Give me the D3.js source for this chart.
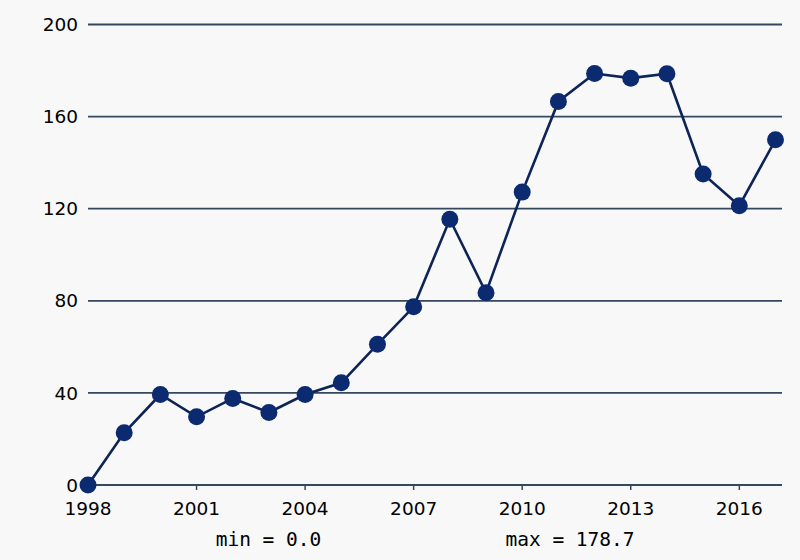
<!DOCTYPE html>
<html><head><meta charset="utf-8">
<script src="https://cdn.jsdelivr.net/npm/d3@7"></script>
<style>body{margin:0;background:#f8f8f8;}svg{display:block;}</style>
</head><body>
<svg id="c" width="800" height="560"></svg>
<script>
const years = [1998,1999,2000,2001,2002,2003,2004,2005,2006,2007,2008,2009,2010,2011,2012,2013,2014,2015,2016,2017];
const values = [0,22.7,39.3,29.6,37.6,31.5,39.3,44.4,61.1,77.4,115.4,83.5,127.2,166.6,178.7,176.7,178.6,135.1,121.3,149.9];
const yTicks = [0,40,80,120,160,200];
const xTicks = [1998,2001,2004,2007,2010,2013,2016];
const minLabel = "min = 0.0";
const maxLabel = "max = 178.7";

const svg = d3.select("#c");
svg.append("rect").attr("width",800).attr("height",560).attr("fill","#f8f8f8");
const x = d3.scaleLinear().domain([1998,2017]).range([88,775.5]);
const y = d3.scaleLinear().domain([0,200]).range([485,24.5]);
const plotRight = 782;
const gridColor = "#34495f";

// grid
svg.append("g").selectAll("line").data(yTicks).join("line")
  .attr("x1",x(1998)).attr("x2",plotRight)
  .attr("y1",d=>y(d)).attr("y2",d=>y(d))
  .attr("stroke",gridColor).attr("stroke-width",1.8);

// y labels
svg.append("g").selectAll("text").data(yTicks).join("text")
  .attr("x",78).attr("y",d=>y(d)).attr("dy","0.36em")
  .attr("text-anchor","end").attr("font-family","DejaVu Sans").attr("font-size",18.5)
  .attr("fill","#000").text(d=>d);

// x ticks
svg.append("g").selectAll("line").data(xTicks).join("line")
  .attr("x1",d=>x(d)).attr("x2",d=>x(d)).attr("y1",y(0)).attr("y2",y(0)+5)
  .attr("stroke",gridColor).attr("stroke-width",1.5);
svg.append("g").selectAll("text").data(xTicks).join("text")
  .attr("x",d=>x(d)).attr("y",515)
  .attr("text-anchor","middle").attr("font-family","DejaVu Sans").attr("font-size",18.5)
  .attr("fill","#000").text(d=>d);

// line
const data = years.map((yr,i)=>({yr, v:values[i]}));
svg.append("path").datum(data)
  .attr("d", d3.line().x(d=>x(d.yr)).y(d=>y(d.v)))
  .attr("fill","none").attr("stroke","#0d2457").attr("stroke-width",2.6);
svg.append("g").selectAll("circle").data(data).join("circle")
  .attr("cx",d=>x(d.yr)).attr("cy",d=>y(d.v)).attr("r",8.5)
  .attr("fill","#0b2a6f");

// min / max
svg.append("text").attr("x",268.5).attr("y",546).attr("text-anchor","middle")
  .attr("font-family","DejaVu Sans Mono").attr("font-size",19.5).attr("fill","#000").text(minLabel);
svg.append("text").attr("x",570).attr("y",546).attr("text-anchor","middle")
  .attr("font-family","DejaVu Sans Mono").attr("font-size",19.5).attr("fill","#000").text(maxLabel);
</script>
</body></html>
